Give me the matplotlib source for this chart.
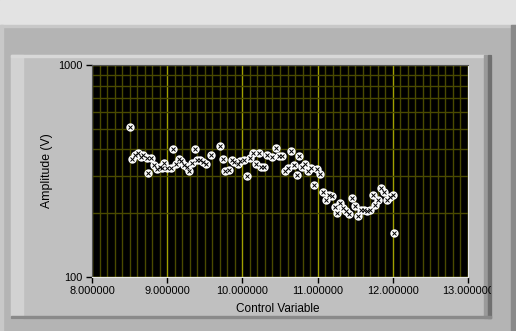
import matplotlib.pyplot as plt
from matplotlib.patches import Rectangle
from matplotlib.ticker import MultipleLocator, LogLocator, NullFormatter, FixedLocator
from matplotlib.transforms import Bbox

# data
control = [8.511, 8.537, 8.573, 8.617, 8.649, 8.684, 8.729, 8.751, 8.791, 8.831,
           8.863, 8.907, 8.933, 8.960, 8.996, 9.049, 9.071, 9.111, 9.156, 9.183,
           9.217, 9.263, 9.284, 9.324, 9.364, 9.396, 9.440, 9.476, 9.511, 9.577,
           9.697, 9.737, 9.773, 9.817, 9.857, 9.893, 9.937, 9.973, 10.017, 10.057,
           10.097, 10.137, 10.177, 10.217, 10.249, 10.284, 10.329, 10.396, 10.444, 10.484,
           10.529, 10.564, 10.604, 10.644, 10.684, 10.724, 10.751, 10.791, 10.831, 10.871,
           10.911, 10.951, 10.991, 11.031, 11.071, 11.111, 11.151, 11.191, 11.231, 11.257,
           11.297, 11.337, 11.377, 11.417, 11.457, 11.497, 11.537, 11.577, 11.617, 11.657,
           11.697, 11.737, 11.764, 11.804, 11.844, 11.884, 11.924, 11.964, 12.004, 12.017]
amplitude = [508, 359, 376, 386, 369, 376, 363, 308, 363, 338,
             322, 330, 328, 344, 328, 325, 400, 341, 359, 354,
             338, 330, 315, 344, 400, 356, 356, 347, 340, 375,
             415, 359, 315, 318, 355, 348, 340, 351, 355, 298,
             363, 383, 340, 383, 331, 331, 375, 367, 404, 371,
             371, 315, 325, 391, 337, 302, 371, 331, 340, 315,
             328, 271, 322, 305, 251, 230, 243, 240, 213, 200,
             223, 211, 204, 198, 235, 216, 193, 206, 206, 204,
             206, 243, 218, 232, 262, 251, 230, 238, 243, 162]
x_ticks = [8, 9, 10, 11, 12, 13]
y_ticks = [100, 1000]

W, H = 516, 331
fig = plt.figure(figsize=(W / 100, H / 100), dpi=100)
fig.patch.set_facecolor('#b4b4b4')

# panel background drawn in pixel coordinates
bg = fig.add_axes([0, 0, 1, 1])
bg.set_xlim(0, W)
bg.set_ylim(H, 0)
bg.axis('off')
bg.add_patch(Rectangle((0, 0), W, 25, color='#e3e3e3'))
bg.add_patch(Rectangle((0, 25), W, 2, color='#c8c8c8'))
bg.add_patch(Rectangle((0, 25), 3, H, color='#c8c8c8'))
bg.add_patch(Rectangle((511, 25), 5, H, color='#8a8a8a'))
bg.add_patch(Rectangle((11, 55), 480, 263, color='#c0c0c0'))
bg.add_patch(Rectangle((11, 55), 12, 263, color='#d2d2d2'))
bg.add_patch(Rectangle((11, 55), 480, 2, color='#d8d8d8'))
bg.add_patch(Rectangle((484, 55), 4, 263, color='#9a9a9a'))
bg.add_patch(Rectangle((488, 55), 3, 263, color='#707070'))
bg.add_patch(Rectangle((11, 316), 480, 2, color='#8a8a8a'))

ax = fig.add_axes([92 / W, (H - 277) / H, 376 / W, 212 / H])
ax.set_facecolor('black')
ax.set_yscale('log')
ax.set_xlim(8, 13)
ax.set_ylim(100, 1000)

ax.xaxis.set_major_locator(FixedLocator(x_ticks))
ax.xaxis.set_minor_locator(MultipleLocator(0.1))
ax.yaxis.set_major_locator(FixedLocator(y_ticks))
ax.yaxis.set_minor_locator(LogLocator(subs=range(2, 10)))
ax.yaxis.set_minor_formatter(NullFormatter())
ax.set_xticklabels(['%.6f' % v for v in x_ticks])
ax.set_yticklabels([str(v) for v in y_ticks])

ax.grid(True, which='minor', color='#4a4a00', linewidth=1)
ax.grid(True, which='major', color='#a0a000', linewidth=1)
ax.tick_params(which='minor', length=0)
ax.tick_params(which='major', length=4, width=1, color='black', pad=2.5)

font = 'Liberation Sans'
for lbl in ax.get_xticklabels() + ax.get_yticklabels():
    lbl.set_fontfamily(font)
    lbl.set_fontsize(7.9)
    lbl.set_color('black')
for lbl in ax.get_xticklabels():
    lbl.set_clip_box(Bbox.from_extents(0, 0, 491, H))
    lbl.set_clip_on(True)

for side in ['left', 'top']:
    ax.spines[side].set_color('#505050')
for side in ['right', 'bottom']:
    ax.spines[side].set_color('#e8e8e8')

# circled-x markers
ax.plot(control, amplitude, 'o', mfc='white', mec='white', ms=5.0, zorder=3)
ax.plot(control, amplitude, 'x', color='black', ms=2.7, mew=0.7, zorder=4)

ax.set_xlabel('Control Variable', fontfamily=font, fontsize=8.5)
ax.set_ylabel('Amplitude (V)', fontfamily=font, fontsize=8.8)
ax.xaxis.label.set_va('center')
ax.yaxis.label.set_va('center')
ax.xaxis.set_label_coords(0.493, -0.151)
ax.yaxis.set_label_coords(-0.12, 0.5)

fig.savefig('out.png', dpi=100, facecolor=fig.get_facecolor())
